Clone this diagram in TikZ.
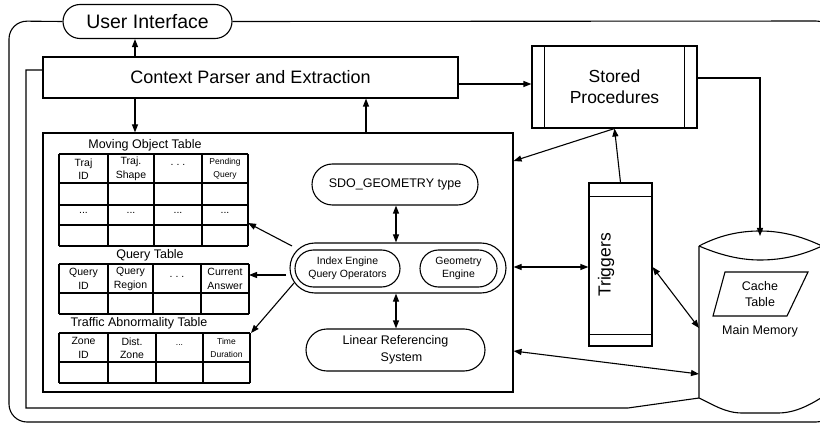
\documentclass[tikz,border=0pt]{standalone}
\usepackage{fontspec}
\setmainfont{Liberation Sans}
\usetikzlibrary{shapes.misc,arrows.meta}
\begin{document}
\begin{tikzpicture}[x=1pt,y=-1pt, line width=1.1pt,
 box/.style={draw, rectangle, inner sep=0pt},
 rr/.style={draw, rounded rectangle, inner sep=0pt},
 arr/.style={-{Triangle[length=8pt,width=6pt]}},
 darr/.style={{Triangle[length=8pt,width=6pt]}-{Triangle[length=8pt,width=6pt]}},
 fhuge/.style={font=\fontsize{19.5}{22}\selectfont},
 fbig/.style={font=\fontsize{17.5}{21}\selectfont},
 fmed/.style={font=\fontsize{12.5}{16.5}\selectfont},
 fsm/.style={font=\fontsize{10.5}{13.5}\selectfont},
 ftiny/.style={font=\fontsize{8.5}{13}\selectfont},
 grid/.style={line width=1.1pt}
]
\useasboundingbox (0,0) rectangle (820,425);

% main nodes
\node[rr, fhuge, minimum width=169pt, minimum height=34pt] (ui) at (147.5,21.5) {User Interface};
\node[box, font=\fontsize{18}{21}\selectfont, minimum width=415pt, minimum height=41pt] (cp) at (250.5,77.5) {Context Parser and Extraction};
\node[box, fbig, align=center, minimum width=165pt, minimum height=82pt] (sp) at (614.5,87) {Stored\\Procedures};
\draw ([xshift=13pt]sp.north west) -- ([xshift=13pt]sp.south west);
\draw ([xshift=-13pt]sp.north east) -- ([xshift=-13pt]sp.south east);
\node[box, minimum width=470pt, minimum height=259pt] (db) at (278,262.5) {};
\node[box, minimum width=63pt, minimum height=163pt] (trig) at (620.5,264.5) {};
\draw ([yshift=-14pt]trig.north west) -- ([yshift=-14pt]trig.north east);
\draw ([yshift=12pt]trig.south west) -- ([yshift=12pt]trig.south east);
\node[fbig, rotate=90] (triglabel) at (606,265) {Triggers};

\node[rr, fmed, minimum width=166pt, minimum height=41pt] (sdo) at (395,184.5) {SDO\_GEOMETRY type};
\node[rr, minimum width=216pt, minimum height=50pt] (eng) at (398,268) {};
\node[rr, fsm, align=center, minimum width=105pt, minimum height=37pt] (idx) at (347.5,268.5) {Index Engine\\Query Operators};
\node[rr, fsm, align=center, minimum width=77pt, minimum height=37pt] (geo) at (458.5,268.5) {Geometry\\Engine};
\node[rr, fmed, align=center, minimum width=179pt, minimum height=42pt] (lrs) at (395.5,350) {Linear Referencing\\\hspace*{12pt}System};

% main memory cylinder
\draw (699,246) .. controls (720,235) and (740,231) .. (760,231) .. controls (785,231) and (805,238) .. (822,246);
\draw (699,246) .. controls (720,255) and (740,260) .. (760,260) .. controls (785,260) and (805,254) .. (822,246);
\draw (699,246) -- (699,398) .. controls (712,404) and (725,413) .. (742,413) -- (778,413) .. controls (795,413) and (810,405) .. (824,396) -- (824,246);
\coordinate (mmtop) at (760,236);
\coordinate (mmA) at (699,328);
\coordinate (mmB) at (699,374);
\coordinate (mmBL) at (699,398);
\draw (725,272) -- (808,272) -- (787,316) -- (713,316) -- cycle;
\node[fmed, align=center] (cache) at (760,294) {Cache\\Table};
\node[fmed] (mmlabel) at (760,331) {Main Memory};

% frames
\draw[rounded corners=18pt] (ui.west) -- (9,21) -- (9,422) -- (834,422) -- (834,21) -- (ui.east);
\draw (cp.west |- 0,70) -- (26,70) -- (26,408) -- (628,408) -- (mmBL);

% tables: Moving Object Table
\node[fmed] (mottitle) at (145,145) {Moving Object Table};
\foreach \x in {59,108,154,202,248} \draw[grid] (\x,154) -- (\x,246);
\foreach \y in {154,183,205,225,246} \draw[grid] (59,\y) -- (248,\y);
\node[fsm, align=center] (m1) at (83.5,169) {Traj\\ID};
\node[fsm, align=center] (m2) at (131,169) {Traj.\\Shape};
\node[fsm] (m3) at (178,165) {.\hspace{3pt}.\hspace{3pt}.};
\node[ftiny, align=center] (m4) at (225,169) {Pending\\Query};
\node[fsm] (d1) at (83.5,213) {...};
\node[fsm] (d2) at (131,213) {...};
\node[fsm] (d3) at (178,213) {...};
\node[fsm] (d4) at (225,213) {...};
\coordinate (motR) at (248,223);

% Query Table
\node[fmed] (qttitle) at (150,255) {Query Table};
\foreach \x in {59,108,153,201,249} \draw[grid] (\x,264) -- (\x,314);
\foreach \y in {264,293,314} \draw[grid] (59,\y) -- (249,\y);
\node[fsm, align=center] (q1) at (83.5,279) {Query\\ID};
\node[fsm, align=center] (q2) at (130.5,279) {Query\\Region};
\node[fsm] (q3) at (177,277) {.\hspace{3pt}.\hspace{3pt}.};
\node[fsm, align=center] (q4) at (225,279) {Current\\Answer};
\coordinate (qtR) at (249,275);

% Traffic Abnormality Table
\node[fmed] (tattitle) at (139,323) {Traffic Abnormality Table};
\foreach \x in {59,108,156,203,250} \draw[grid] (\x,333) -- (\x,383);
\foreach \y in {333,362,383} \draw[grid] (59,\y) -- (250,\y);
\node[fsm, align=center] (t1) at (83.5,348) {Zone\\ID};
\node[fsm, align=center] (t2) at (132,348) {Dist.\\Zone};
\node[ftiny] (t3) at (179.5,345) {...};
\node[ftiny, align=center] (t4) at (226.5,348) {Time\\Duration};
\coordinate (tatR) at (251,333);

% engine anchors
\coordinate (e1) at (292,246);
\coordinate (e2) at (286,275);
\coordinate (e3) at (294,283);

% connectors
\draw[arr] (cp.north -| 135,0) -- (ui.south -| 135,0);
\draw[arr] (cp.south -| 135,0) -- (db.north -| 135,0);
\draw[arr] (db.north -| 366,0) -- (cp.south -| 366,0);
\draw[arr] (cp.east |- 0,84) -- (sp.west |- 0,84);
\draw[arr] (sp.east |- 0,78) -| (mmtop);
\draw[arr] (sp.south) -- (db.east |- 0,161);
\draw[arr] (trig.north) -- (sp.south);
\draw[darr] (db.east |- 0,267) -- (trig.west |- 0,267);
\draw[darr] (trig.east |- 0,267) -- (mmA);
\draw[darr] (db.east |- 0,351) -- (mmB);
\draw[darr] (sdo.south -| 396,0) -- (eng.north -| 396,0);
\draw[darr] (eng.south -| 396,0) -- (lrs.north -| 396,0);
\draw[arr] (e1) -- (motR);
\draw[arr] (e2) -- (qtR);
\draw[arr] (e3) -- (tatR);
\end{tikzpicture}
\end{document}
